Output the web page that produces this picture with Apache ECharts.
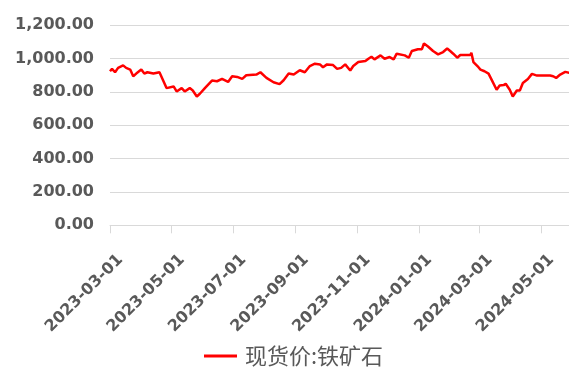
<!DOCTYPE html>
<html>
<head>
<meta charset="utf-8">
<script src="https://cdn.jsdelivr.net/npm/echarts@6/dist/echarts.min.js"></script>
<style>html,body{margin:0;padding:0;background:#fff}#c{width:569px;height:367px}</style>
</head>
<body>
<div id="c"></div>
<script>
const seriesName = '现货价:铁矿石';
const dates = [
'2023-03-01','2023-03-03','2023-03-06','2023-03-09','2023-03-14','2023-03-17','2023-03-21','2023-03-24','2023-03-27','2023-04-01',
'2023-04-04','2023-04-07','2023-04-13','2023-04-19','2023-04-23','2023-04-26','2023-05-03','2023-05-06','2023-05-11','2023-05-14',
'2023-05-19','2023-05-22','2023-05-26','2023-05-29','2023-06-03','2023-06-10','2023-06-15','2023-06-20','2023-06-26','2023-06-30',
'2023-07-05','2023-07-10','2023-07-14','2023-07-24','2023-07-28','2023-08-03','2023-08-10','2023-08-16','2023-08-20','2023-08-25',
'2023-08-30','2023-09-05','2023-09-10','2023-09-15','2023-09-20','2023-09-25','2023-09-28','2023-10-02','2023-10-08','2023-10-12',
'2023-10-16','2023-10-20','2023-10-25','2023-10-28','2023-11-02','2023-11-09','2023-11-12','2023-11-15','2023-11-18','2023-11-24',
'2023-11-28','2023-12-03','2023-12-07','2023-12-10','2023-12-18','2023-12-22','2023-12-25','2023-12-31','2024-01-04','2024-01-06',
'2024-01-10','2024-01-15','2024-01-20','2024-01-25','2024-01-29','2024-02-01','2024-02-04','2024-02-08','2024-02-11','2024-02-21',
'2024-02-22','2024-02-24','2024-02-29','2024-03-02','2024-03-06','2024-03-10','2024-03-13','2024-03-18','2024-03-21','2024-03-25',
'2024-03-27','2024-03-31','2024-04-03','2024-04-07','2024-04-10','2024-04-13','2024-04-18','2024-04-22','2024-04-27','2024-05-02',
'2024-05-10','2024-05-13','2024-05-16','2024-05-20','2024-05-25','2024-05-29'
];
const values = [
923,937,917,943,958,943,933,893,909,933,
909,917,909,917,863,822,832,802,822,802,
822,808,772,788,822,867,863,877,859,893,
889,877,899,903,917,883,857,846,869,909,
903,929,917,954,968,964,947,964,960,937,
943,964,927,954,978,984,998,1010,994,1018,
998,1008,994,1028,1018,1004,1044,1055,1055,1089,
1071,1044,1024,1038,1059,1044,1028,1004,1020,1020,
1034,978,947,933,923,909,873,812,838,840,
848,812,772,808,808,853,877,907,897,897,
897,893,883,903,919,913
];
const tickDates = ['2023-03-01','2023-05-01','2023-07-01','2023-09-01','2023-11-01','2024-01-01','2024-03-01','2024-05-01'];
const yTicks = [0,200,400,600,800,1000,1200];

const DAY = 86400000;
const LABEL_SHIFT = 10.4; // rotated labels sit slightly right of their tick, as in the source chart
const ts = s => Date.parse(s + 'T00:00:00Z');
const origin = ts(dates[0]);
const dayOf = s => Math.round((ts(s) - origin) / DAY);
const pad = n => (n < 10 ? '0' : '') + n;
const fmtDay = v => { const d = new Date(origin + Math.round(v) * DAY); return d.getUTCFullYear() + '-' + pad(d.getUTCMonth() + 1) + '-' + pad(d.getUTCDate()); };
const tickDays = tickDates.map(dayOf);

const chart = echarts.init(document.getElementById('c'), null, {renderer: 'canvas'});
chart.setOption({
  animation: false,
  backgroundColor: '#ffffff',
  grid: {left: 110, right: 0, top: 25, bottom: 141.7, containLabel: false},
  legend: {
    data: [seriesName],
    left: 199, top: 340,
    icon: 'rect', itemWidth: 33, itemHeight: 3,
    textStyle: {color: '#595959', fontSize: 22, padding: [0, 0, 0, 3], fontFamily: '"Noto Sans CJK SC", sans-serif'}
  },
  xAxis: {
    type: 'value',
    min: 0, max: 454.7,
    axisLine: {show: true, onZero: false, lineStyle: {color: '#d9d9d9', width: 1}},
    axisTick: {show: true, length: 8, lineStyle: {color: '#d9d9d9', width: 1}, customValues: tickDays},
    splitLine: {show: false},
    axisLabel: {
      customValues: tickDays.map(d => d + LABEL_SHIFT),
      rotate: 45, margin: 32,
      color: '#595959', fontSize: 16, fontWeight: 'bold', fontFamily: '"DejaVu Sans", sans-serif',
      formatter: v => fmtDay(v - LABEL_SHIFT)
    }
  },
  yAxis: {
    type: 'value', min: yTicks[0], max: yTicks[yTicks.length - 1], interval: 200,
    axisLine: {show: false}, axisTick: {show: false},
    splitLine: {lineStyle: {color: '#d9d9d9', width: 1}},
    axisLabel: {
      margin: 16, color: '#595959', fontSize: 16, fontWeight: 'bold', fontFamily: '"DejaVu Sans", sans-serif',
      formatter: v => v.toLocaleString('en-US', {minimumFractionDigits: 2, maximumFractionDigits: 2})
    }
  },
  series: [{
    name: seriesName, type: 'line', showSymbol: false, symbol: 'none',
    data: dates.map((d, i) => [dayOf(d), values[i]]),
    lineStyle: {color: '#ff0000', width: 2.5}, itemStyle: {color: '#ff0000'}
  }]
});
</script>
</body>
</html>
